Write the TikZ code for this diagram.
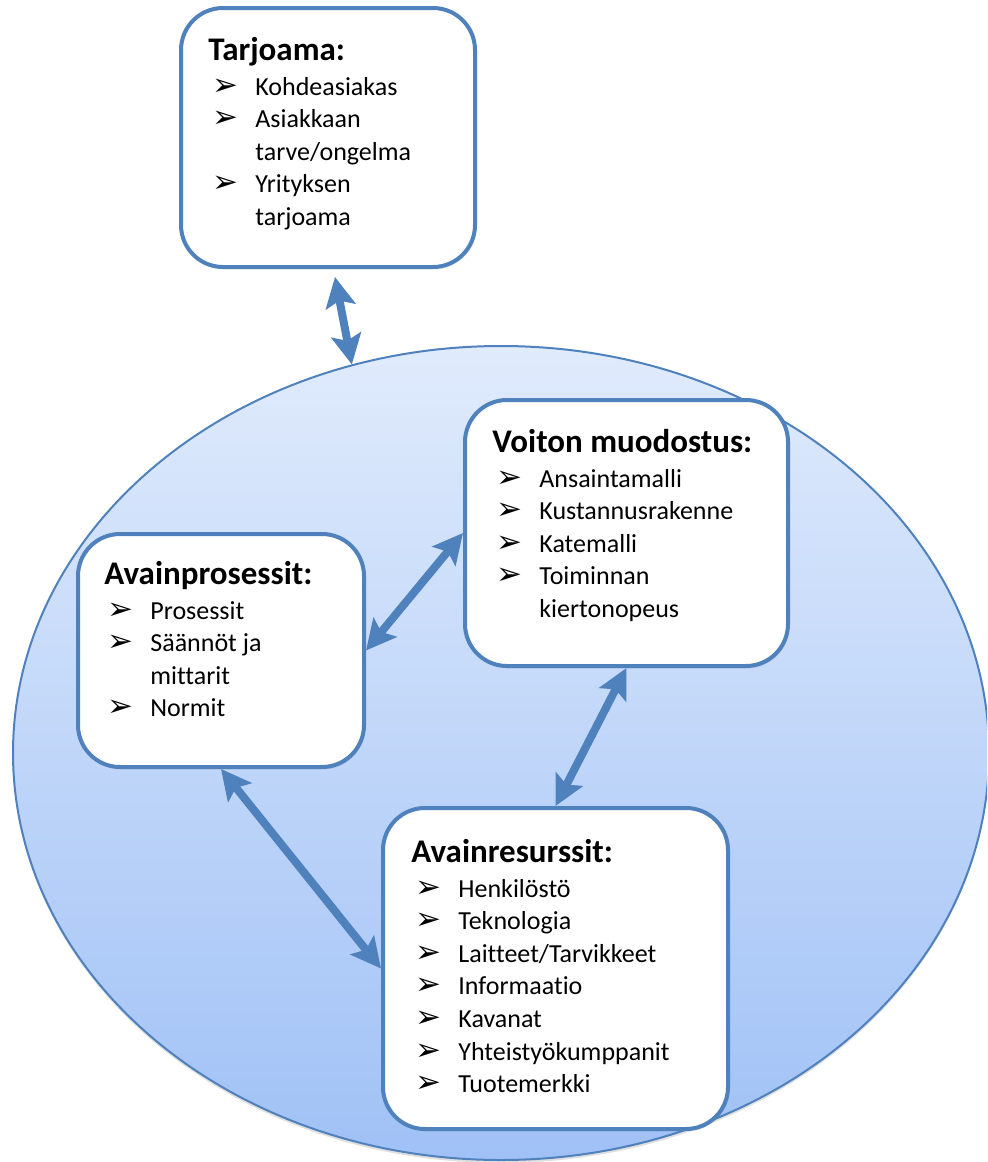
\documentclass[tikz,border=0pt]{standalone}
\usepackage{fontspec}
\setmainfont{Carlito}[Ligatures={NoCommon}]
\newfontfamily\dingfont{DejaVu Sans}
\usetikzlibrary{arrows.meta,shapes.geometric,shadows}

\definecolor{frameblue}{RGB}{79,129,189}
\definecolor{fieldtop}{RGB}{224,235,252}
\definecolor{fieldbottom}{RGB}{160,193,246}

% list bullet and text sizes
\newcommand{\pointer}{{\dingfont\bfseries\fontsize{15.5}{15.5}\selectfont ➢}}
\newcommand{\bodysize}{\fontsize{13}{16.3}\selectfont}
\newcommand{\headsize}{\fontsize{16.5}{20}\selectfont\bfseries}
\newcommand{\entry}[1]{\pointer & #1\\}
\newcommand{\cont}[1]{ & #1\\}
\newenvironment{pointlist}{\bodysize\begin{tabular}[t]{@{}p{21.5pt}@{}l@{}}}{\end{tabular}}

\begin{document}
\begin{tikzpicture}[x=0.5pt,y=-0.5pt,
  card/.style={draw=frameblue, line width=2pt, fill=white, rounded corners=21pt,
    inner sep=0pt, drop shadow={shadow xshift=0.6pt, shadow yshift=-1.2pt, opacity=0.2}},
  head/.style={anchor=base west, inner sep=0pt, font=\headsize},
  items/.style={anchor=base west, inner sep=0pt},
  link/.style={color=frameblue, line width=4pt,
    {Stealth[length=15pt,width=15pt,inset=3pt]}-{Stealth[length=15pt,width=15pt,inset=3pt]}}
]
\useasboundingbox (0,0) rectangle (987,1162);
\clip (0,0) rectangle (987,1162);

% background field
\node[ellipse, minimum width=488pt, minimum height=407pt, inner sep=0pt,
  draw=frameblue, line width=1pt, top color=fieldtop, bottom color=fieldbottom,
  drop shadow={shadow xshift=0pt, shadow yshift=-1.5pt, opacity=0.25}] (field) at (501,753) {};

% boxes
\node[card, minimum width=147pt, minimum height=129.5pt] (tarj) at (328,137.5) {};
\node[card, minimum width=161.5pt, minimum height=133pt] (voit) at (626.5,533) {};
\node[card, minimum width=143pt, minimum height=116.5pt] (proc) at (221,650.5) {};
\node[card, minimum width=172.5pt, minimum height=160.5pt] (res) at (555.5,968.5) {};

% box texts
\node[head] (tarj-h) at (208,60) {Tarjoama:};
\node[items] (tarj-l) at (212,95) {\begin{pointlist}
\entry{Kohdeasiakas}
\entry{Asiakkaan}
\cont{tarve/ongelma}
\entry{Yrityksen}
\cont{tarjoama}
\end{pointlist}};

\node[head] (voit-h) at (492,452) {Voiton muodostus:};
\node[items] (voit-l) at (496,487) {\begin{pointlist}
\entry{Ansaintamalli}
\entry{Kustannusrakenne}
\entry{Katemalli}
\entry{Toiminnan}
\cont{kiertonopeus}
\end{pointlist}};

\node[head] (proc-h) at (104,584) {Avainprosessit:};
\node[items] (proc-l) at (107,619) {\begin{pointlist}
\entry{Prosessit}
\entry{Säännöt ja}
\cont{mittarit}
\entry{Normit}
\end{pointlist}};

\node[head] (res-h) at (411,862) {Avainresurssit:};
\node[items] (res-l) at (415,897) {\begin{pointlist}
\entry{Henkilöstö}
\entry{Teknologia}
\entry{Laitteet/Tarvikkeet}
\entry{Informaatio}
\entry{Kavanat}
\entry{Yhteistyökumppanit}
\entry{Tuotemerkki}
\end{pointlist}};

% connectors
\draw[link] ([xshift=3.5pt,yshift=-4pt]tarj.south) -- (field.111.2);
\draw[link] (proc.east) -- (voit.west);
\draw[link] (voit.south) -- (res.north);
\draw[link] (proc.south) -- (res.west);
\end{tikzpicture}
\end{document}
